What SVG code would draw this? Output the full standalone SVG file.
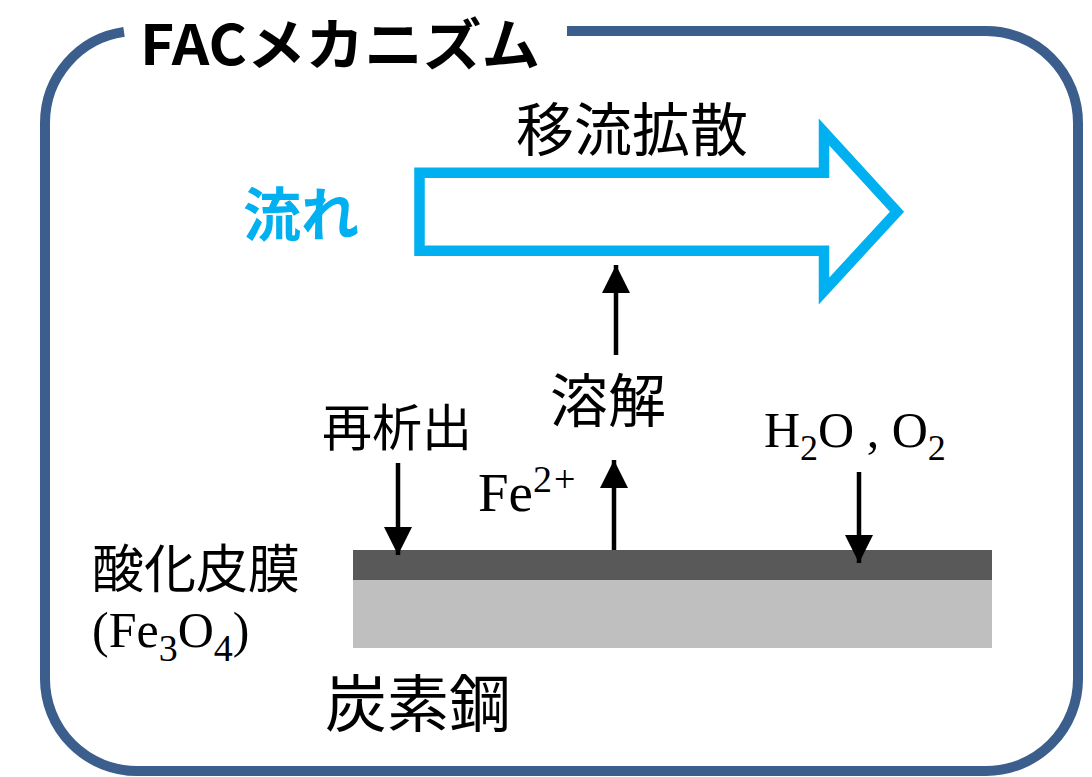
<svg xmlns="http://www.w3.org/2000/svg" width="1092" height="777" viewBox="0 0 1092 777">
<style>
.jp{font-family:"Noto Sans CJK JP","Noto Sans",sans-serif;fill:#000}
.sf{font-family:"Liberation Serif","DejaVu Serif",serif;fill:#000}
.ln{stroke:#000;stroke-width:4.5;fill:none}
</style>
<defs>
<marker id="ah" markerUnits="userSpaceOnUse" markerWidth="28" markerHeight="28" viewBox="0 0 26 26" refX="26" refY="13" orient="auto">
<path d="M0,0 L26,13 L0,26 Z" fill="#000"/>
</marker>
</defs>
<rect width="1092" height="777" fill="#fff"/>
<g id="frame">
<path d="M567,31 L986,31 A92,92 0 0 1 1078,123 L1078,679 A92,92 0 0 1 986,771 L137,771 A92,92 0 0 1 45,679 L45,123 A92,92 0 0 1 124,31.9" fill="none" stroke="#3B5E8C" stroke-width="10"/>
<text class="jp" x="140" y="65" font-size="56" font-weight="bold" textLength="400" lengthAdjust="spacingAndGlyphs">FACメカニズム</text>
</g>
<g id="flow">
<path d="M419.5,172.7 L824,172.7 L824,132 L897,211.7 L824,291 L824,250.7 L419.5,250.7 Z" fill="#fff" stroke="#00B0F0" stroke-width="10.5" stroke-miterlimit="10"/>
<text class="jp" x="632" y="151" font-size="58" text-anchor="middle">移流拡散</text>
<text class="jp" x="301" y="236" font-size="58" font-weight="bold" text-anchor="middle" style="fill:#00B0F0">流れ</text>
</g>
<g id="film">
<rect x="353" y="580" width="639" height="68" fill="#BFBFBF"/>
<rect x="353" y="550" width="639" height="30" fill="#595959"/>
</g>
<g id="labels">
<text class="jp" x="608" y="422" font-size="58" text-anchor="middle">溶解</text>
<text class="jp" x="397" y="446" font-size="50" text-anchor="middle">再析出</text>
<text class="jp" x="92" y="588" font-size="52">酸化皮膜</text>
<text class="jp" x="325" y="727" font-size="62">炭素鋼</text>
<text class="sf" x="478" y="511" font-size="55">Fe<tspan font-size="38" dy="-19" letter-spacing="2">2+</tspan></text>
<text class="sf" x="764" y="447" font-size="50">H<tspan font-size="36" dy="13">2</tspan><tspan dy="-13">O , O</tspan><tspan font-size="36" dy="13">2</tspan></text>
<text class="sf" x="92" y="647" font-size="50">(Fe<tspan font-size="38" dy="14">3</tspan><tspan dy="-14">O</tspan><tspan font-size="38" dy="14">4</tspan><tspan dy="-14">)</tspan></text>
</g>
<g id="connectors">
<line class="ln" x1="616" y1="355" x2="616" y2="265" marker-end="url(#ah)"/>
<line class="ln" x1="614" y1="550" x2="614" y2="460" marker-end="url(#ah)"/>
<line class="ln" x1="398" y1="463" x2="398" y2="555" marker-end="url(#ah)"/>
<line class="ln" x1="859" y1="472" x2="859" y2="563" marker-end="url(#ah)"/>
</g>
</svg>
